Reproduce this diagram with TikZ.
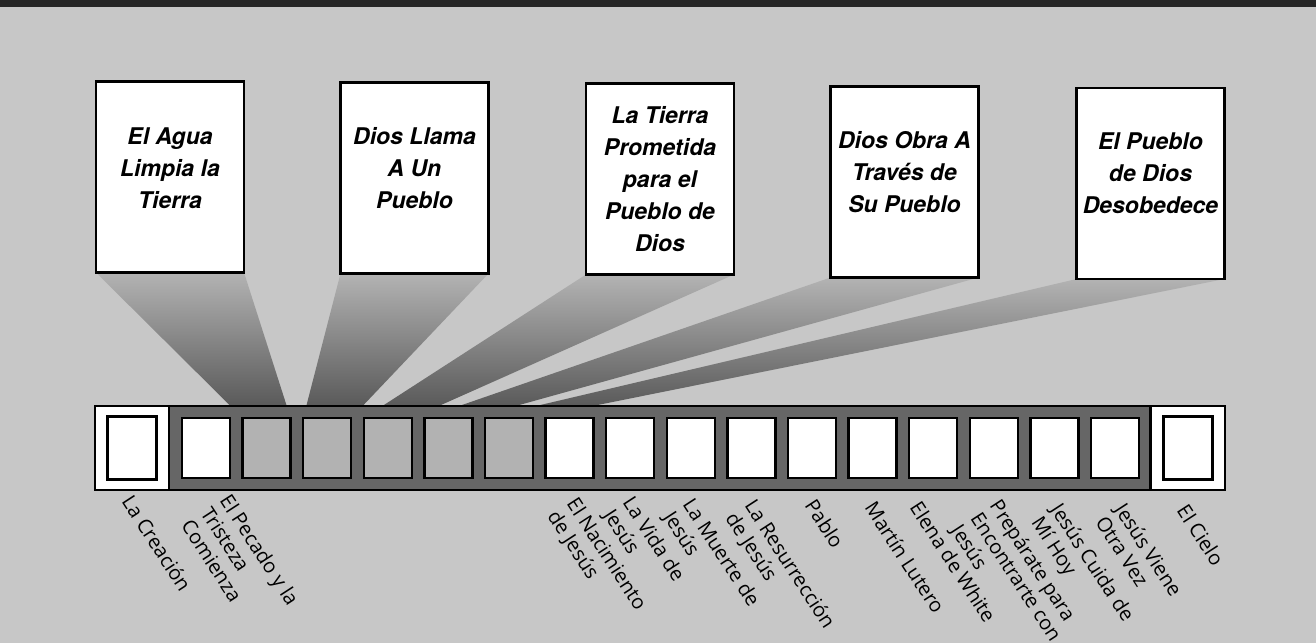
\documentclass[tikz,border=0pt]{standalone}
\usepackage{fontspec}
\newfontfamily\titlefont{TeX Gyre Heros}
\newfontfamily\tagfont{Open Sans}
\usetikzlibrary{backgrounds}
\definecolor{paper}{gray}{0.78}
\definecolor{band}{gray}{0.15}
\definecolor{stripgray}{gray}{0.4}
\definecolor{cellgray}{gray}{0.7}
\definecolor{raygray}{gray}{0.32}
\tikzset{
  topbox/.style={draw=black, line width=1.1pt, fill=white, inner sep=0pt, outer sep=0pt,
    minimum width=74pt, minimum height=95.5pt},
  boxtitle/.style={align=center, inner sep=0pt,
    font=\titlefont\bfseries\itshape\fontsize{11.5}{16}\selectfont},
  strip/.style={draw=black, line width=0.8pt, fill=stripgray, inner sep=0pt, outer sep=0pt,
    minimum width=491pt, minimum height=42pt},
  endbox/.style={draw=black, line width=0.8pt, fill=white, inner sep=0pt, outer sep=0pt,
    minimum width=37pt, minimum height=42pt},
  endcell/.style={draw=black, line width=1.3pt, fill=white, inner sep=0pt,
    minimum width=24.5pt, minimum height=31.5pt},
  cell/.style={draw=black, line width=1.2pt, fill=white, inner sep=0pt, outer sep=0pt,
    minimum width=24pt, minimum height=30pt},
  graycell/.style={cell, fill=cellgray},
  wedge/.style={top color=paper!90!black, bottom color=raygray},
  tag/.style={anchor=north west, rotate=-57, align=left, inner sep=0pt,
    font=\tagfont\fontsize{10}{11.5}\selectfont}
}
\begin{document}
\begin{tikzpicture}[x=0.5pt, y=-0.5pt]
  \useasboundingbox (0,0) rectangle (1316,643);
  \def\x{60.6}
  % top boxes
  \node[topbox] (T1) at (170,177) {};
  \node[topbox] (T2) at (414.5,178) {};
  \node[topbox] (T3) at (660,179) {};
  \node[topbox] (T4) at (904.5,182) {};
  \node[topbox] (T5) at (1150.5,183.5) {};
  \node[boxtitle] (B1) at (170,168) {El Agua\\Limpia la\\Tierra};
  \node[boxtitle] (B2) at (414.5,168) {Dios Llama\\A Un\\Pueblo};
  \node[boxtitle] (B3) at (660,179) {La Tierra\\Prometida\\para el\\Pueblo de\\Dios};
  \node[boxtitle] (B4) at (904.5,172) {Dios Obra A\\Través de\\Su Pueblo};
  \node[boxtitle] (B5) at (1150.5,173) {El Pueblo\\de Dios\\Desobedece};
  % time line
  \node[strip] (R) at (659,448) {};
  \node[endbox] (S0) at (132,448) {};
  \node[endcell] (S0i) at (S0) {};
  \node[endbox] (S17) at (1188,448) {};
  \node[endcell] (S17i) at (S17) {};
  \node[cell] (C1) at (206+0*\x,448) {};
  \node[graycell] (C2) at (206+1*\x,448) {};
  \node[graycell] (C3) at (206+2*\x,448) {};
  \node[graycell] (C4) at (206+3*\x,448) {};
  \node[graycell] (C5) at (206+4*\x,448) {};
  \node[graycell] (C6) at (206+5*\x,448) {};
  \node[cell] (C7) at (206+6*\x,448) {};
  \node[cell] (C8) at (206+7*\x,448) {};
  \node[cell] (C9) at (206+8*\x,448) {};
  \node[cell] (C10) at (206+9*\x,448) {};
  \node[cell] (C11) at (206+10*\x,448) {};
  \node[cell] (C12) at (206+11*\x,448) {};
  \node[cell] (C13) at (206+12*\x,448) {};
  \node[cell] (C14) at (206+13*\x,448) {};
  \node[cell] (C15) at (206+14*\x,448) {};
  \node[cell] (C16) at (206+15*\x,448) {};
  % names under the cells
  \node[tag] (L0) at (134,493) {La Creación};
  \node[tag] (L1) at (232,492) {El Pecado y la\\Tristeza\\Comienza};
  \node[tag] (L7) at (579,495) {El Nacimiento\\de Jesús};
  \node[tag] (L8) at (635,494) {La Vida de\\Jesús};
  \node[tag] (L9) at (695,496) {La Muerte de\\Jesús};
  \node[tag] (L10) at (757,497) {La Resurrección\\de Jesús};
  \node[tag] (L11) at (817,497) {Pablo};
  \node[tag] (L12) at (877,499) {Martín Lutero};
  \node[tag] (L13) at (922,499) {Elena de White};
  \node[tag] (L14) at (1002,497) {Prepárate para\\Encontrarte con\\Jesús};
  \node[tag] (L15) at (1063,501) {Jesús Cuida de\\Mí Hoy};
  \node[tag] (L16) at (1127,501) {Jesús Viene\\Otra Vez};
  \node[tag] (L17) at (1189,502) {El Cielo};
  \begin{scope}[on background layer]
    \fill[paper] (0,0) rectangle (1316,643);
    \fill[band] (0,0) rectangle (1316,7);
    \shade[wedge] (T1.south west) -- (T1.south east) -- (C2.north east) -- (C2.north west) -- cycle;
    \shade[wedge] (T2.south west) -- (T2.south east) -- (C3.north east) -- (C3.north west) -- cycle;
    \shade[wedge] (T3.south west) -- (T3.south east) -- (C4.north east) -- (C4.north west) -- cycle;
    \shade[wedge] (T4.south west) -- (T4.south east) -- (C5.north east) -- (C5.north west) -- cycle;
    \shade[wedge] (T5.south west) -- (T5.south east) -- (C6.north east) -- (C6.north west) -- cycle;
  \end{scope}
\end{tikzpicture}
\end{document}
